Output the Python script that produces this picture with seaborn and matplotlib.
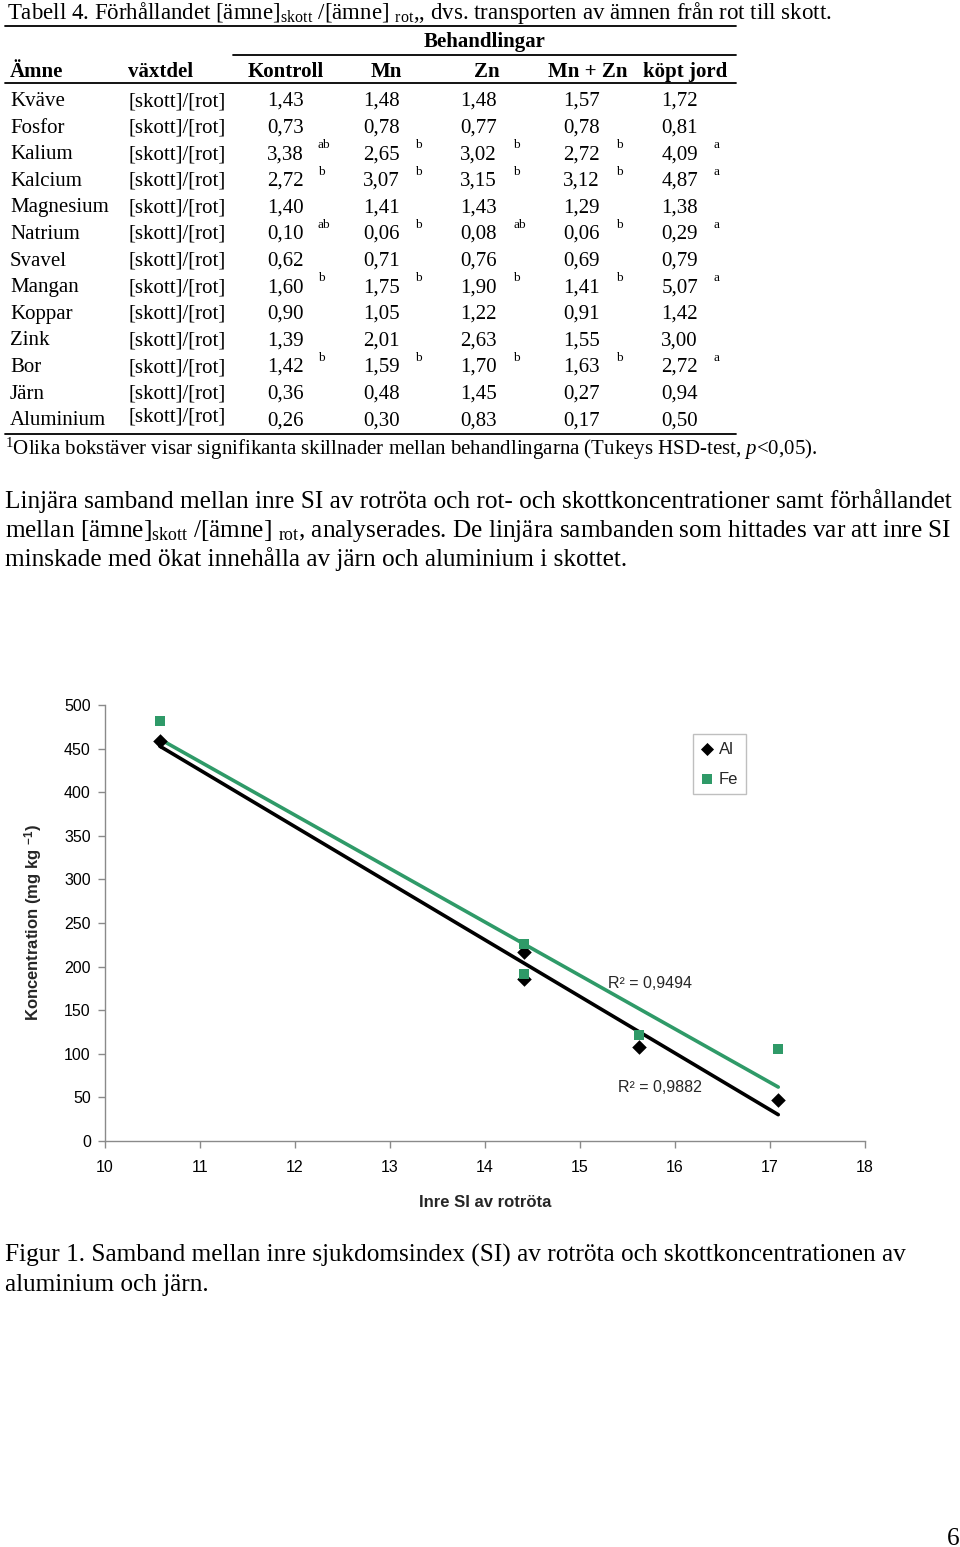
import numpy as np
import pandas as pd
import matplotlib
matplotlib.use("Agg")
import matplotlib.pyplot as plt
import seaborn as sns

# ---------------- data ----------------
amnen = ["Kväve", "Fosfor", "Kalium", "Kalcium", "Magnesium", "Natrium", "Svavel",
         "Mangan", "Koppar", "Zink", "Bor", "Järn", "Aluminium"]
vaxtdel = "[skott]/[rot]"
behandlingar = ["Kontroll", "Mn", "Zn", "Mn + Zn", "köpt jord"]
kontroll = [1.43, 0.73, 3.38, 2.72, 1.40, 0.10, 0.62, 1.60, 0.90, 1.39, 1.42, 0.36, 0.26]
mn = [1.48, 0.78, 2.65, 3.07, 1.41, 0.06, 0.71, 1.75, 1.05, 2.01, 1.59, 0.48, 0.30]
zn = [1.48, 0.77, 3.02, 3.15, 1.43, 0.08, 0.76, 1.90, 1.22, 2.63, 1.70, 1.45, 0.83]
mn_zn = [1.57, 0.78, 2.72, 3.12, 1.29, 0.06, 0.69, 1.41, 0.91, 1.55, 1.63, 0.27, 0.17]
kopt_jord = [1.72, 0.81, 4.09, 4.87, 1.38, 0.29, 0.79, 5.07, 1.42, 3.00, 2.72, 0.94, 0.50]
kontroll_sig = ["", "", "ab", "b", "", "ab", "", "b", "", "", "b", "", ""]
mn_sig = ["", "", "b", "b", "", "b", "", "b", "", "", "b", "", ""]
zn_sig = ["", "", "b", "b", "", "ab", "", "b", "", "", "b", "", ""]
mn_zn_sig = ["", "", "b", "b", "", "b", "", "b", "", "", "b", "", ""]
kopt_jord_sig = ["", "", "a", "a", "", "a", "", "a", "", "", "a", "", ""]

si_al = [10.58, 14.41, 14.41, 15.62, 17.09]
al_conc = [459, 217, 186, 108, 47]
si_fe = [10.58, 14.41, 14.41, 15.62, 17.09]
fe_conc = [482, 226, 192, 121, 106]
r2_al = "0,9882"
r2_fe = "0,9494"
x_ticks = list(range(10, 19))
y_ticks = list(range(0, 501, 50))

# ---------------- style ----------------
sns.set_theme(style="ticks")
plt.rcParams["font.family"] = ["Liberation Sans", "DejaVu Sans"]
plt.rcParams["mathtext.fontset"] = "custom"
plt.rcParams["mathtext.rm"] = "Liberation Serif"
plt.rcParams["mathtext.it"] = "Liberation Serif:italic"
plt.rcParams["mathtext.bf"] = "Liberation Sans:bold"

W, H = 960, 1547
fig = plt.figure(figsize=(W / 100, H / 100), dpi=100)

def fx(x):
    return x / W

def fy(y):
    return 1 - y / H

SERIF = "Liberation Serif"
FS = 15.0

def t(x, y, s, ha="left", size=FS, weight="normal", style="normal", fam=SERIF):
    fig.text(fx(x), fy(y), s, ha=ha, va="baseline", fontsize=size,
             fontweight=weight, fontstyle=style, family=fam, color="black")

def hline(x0, x1, y, lw=1.3):
    fig.add_artist(plt.Line2D([fx(x0), fx(x1)], [fy(y), fy(y)], color="black",
                              lw=lw, transform=fig.transFigure))

# ---------------- table ----------------
t(7, 19, r"Tabell 4. Förhållandet [ämne]$_{\mathrm{skott}}$ /[ämne] $_{\mathrm{rot}}$,, dvs. transporten av ämnen från rot till skott.", size=16.5)
hline(5, 736, 25.5)
t(485, 47, "Behandlingar", ha="center", weight="bold")
hline(233, 736, 54.5)
t(10, 77, "Ämne", weight="bold")
t(128, 77, "växtdel", weight="bold")
head_cx = [285.5, 386, 487, 587.5, 685]
for cx, h in zip(head_cx, behandlingar):
    t(cx, 77, h, ha="center", weight="bold")
hline(5, 736, 82.5)

cols = [kontroll, mn, zn, mn_zn, kopt_jord]
sigs = [kontroll_sig, mn_sig, zn_sig, mn_zn_sig, kopt_jord_sig]
val_right = [304, 400, 497, 600, 698]
sig_left = [318, 415, 513, 616, 713]
for i, amne in enumerate(amnen):
    yb = 106 + 26.6 * i
    t(10, yb, amne)
    t(128, yb - (4 if amne == "Aluminium" else 0), vaxtdel)
    for col, sg, xr, xs in zip(cols, sigs, val_right, sig_left):
        t(xr, yb, f"{col[i]:.2f}".replace(".", ","), ha="right")
        if sg[i]:
            t(xs, yb - 11, sg[i], size=9.5)
hline(5, 736, 433.5)
t(5, 455, r"$^{1}$Olika bokstäver visar signifikanta skillnader mellan behandlingarna (Tukeys HSD-test, $\mathit{p}$<0,05).")

# ---------------- paragraph ----------------
PF = 18.2
t(5, 508, "Linjära samband mellan inre SI av rotröta och rot- och skottkoncentrationer samt förhållandet", size=PF)
t(5, 537, r"mellan [ämne]$_{\mathrm{skott}}$ /[ämne] $_{\mathrm{rot}}$, analyserades. De linjära sambanden som hittades var att inre SI", size=PF)
t(5, 566, "minskade med ökat innehålla av järn och aluminium i skottet.", size=PF)

# ---------------- chart ----------------
ax = fig.add_axes([fx(104.7), fy(1141), fx(864.7) - fx(104.7), fy(705) - fy(1141)])
green = "#2f9a68"
df_al = pd.DataFrame({"SI": si_al, "conc": al_conc})
df_fe = pd.DataFrame({"SI": si_fe, "conc": fe_conc})
sns.regplot(data=df_al, x="SI", y="conc", ax=ax, ci=None, marker="D", color="black",
            scatter_kws={"s": 55, "zorder": 3, "linewidths": 0, "alpha": 1},
            line_kws={"lw": 2.6, "zorder": 2}, label="Al")
sns.regplot(data=df_fe, x="SI", y="conc", ax=ax, ci=None, marker="s", color=green,
            scatter_kws={"s": 60, "zorder": 4, "linewidths": 0, "alpha": 1},
            line_kws={"lw": 2.6, "zorder": 2}, label="Fe")
ax.set_xlim(10, 18)
ax.set_ylim(0, 500)
ax.set_xticks(x_ticks)
ax.set_yticks(y_ticks)
ax.set_xticklabels([str(v) for v in x_ticks])
ax.set_yticklabels([str(v) for v in y_ticks])
sns.despine(ax=ax)
for sp in ["left", "bottom"]:
    ax.spines[sp].set_color("#8a8a8a")
    ax.spines[sp].set_linewidth(1.0)
ax.tick_params(axis="both", colors="#8a8a8a", labelcolor="black", length=5, width=1,
               labelsize=11.5, direction="out")
ax.tick_params(axis="y", pad=5)
ax.tick_params(axis="x", pad=9)
ax.set_xlabel("Inre SI av rotröta", fontsize=12, fontweight="bold", labelpad=14)
ax.set_ylabel(r"Koncentration (mg kg $^{\mathbf{-1}}$)", fontsize=12, fontweight="bold", labelpad=14)
ax.set_facecolor("white")

ax.text(15.3, 181, f"R² = {r2_fe}", fontsize=11.5, va="center", ha="left")
ax.text(15.4, 61, f"R² = {r2_al}", fontsize=11.5, va="center", ha="left")

leg = ax.legend(loc="upper left", bbox_to_anchor=(fx(693), fy(734)), bbox_transform=fig.transFigure,
                frameon=True, fancybox=False, fontsize=12, handlelength=0.8, handletextpad=0.3,
                labelspacing=0.9, borderpad=0.45, borderaxespad=0, markerscale=0.9)
leg.get_frame().set_edgecolor("#b0b0b0")
leg.get_frame().set_linewidth(1.0)

# ---------------- caption ----------------
t(5, 1262, "Figur 1. Samband mellan inre sjukdomsindex (SI) av rotröta och skottkoncentrationen av", size=PF)
t(5, 1291, "aluminium och järn.", size=PF)
t(959, 1545, "6", ha="right", size=PF)

fig.savefig("out.png", dpi=100, facecolor="white")
